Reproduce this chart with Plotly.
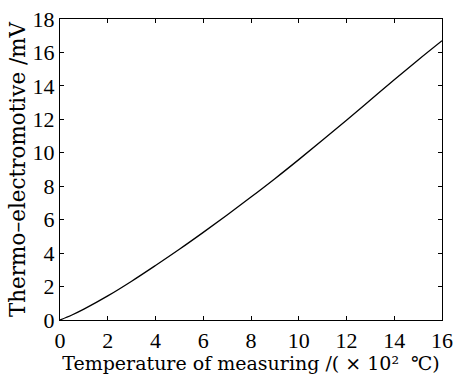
import plotly.graph_objects as go

temp = [0, 0.5, 1, 2, 3, 4, 5, 6, 7, 8, 9, 10, 11, 12, 13, 14, 15, 16]
emf = [0, 0.30, 0.65, 1.44, 2.32, 3.26, 4.23, 5.24, 6.28, 7.35, 8.45, 9.59, 10.76, 11.95, 13.16, 14.37, 15.55, 16.7]
x_ticks = [0, 2, 4, 6, 8, 10, 12, 14, 16]
y_ticks = [0, 2, 4, 6, 8, 10, 12, 14, 16, 18]

TFONT = "Liberation Serif, Times New Roman, serif"
FONT = "DejaVu Serif, Liberation Serif, serif"

fig = go.Figure(go.Scatter(x=temp, y=emf, mode="lines", line=dict(color="black", width=1.3, shape="spline")))

axis_common = dict(showgrid=False, zeroline=False, showline=True, linecolor="black", linewidth=1.2,
                   mirror="ticks", ticks="inside", ticklen=4, tickcolor="black", tickwidth=1,
                   tickfont=dict(family=TFONT, size=22, color="black"))
fig.update_layout(
    width=457, height=374, margin=dict(l=60, r=15, t=19, b=54, autoexpand=False),
    plot_bgcolor="white", paper_bgcolor="white", showlegend=False,
    xaxis=dict(range=[0, 16], tickvals=x_ticks, ticktext=[str(v) for v in x_ticks],
               title=dict(text="\u00a0\u00a0Temperature of measuring /( × 10²  ℃)", standoff=0,
                          font=dict(family=FONT, size=19, color="black")),
               automargin=False, **axis_common),
    yaxis=dict(range=[0, 18], tickvals=y_ticks, ticktext=[str(v) for v in y_ticks],
               title=dict(text="Thermo–electromotive /mV", standoff=0,
                          font=dict(family=FONT, size=21.5, color="black")),
               automargin=False, **axis_common),
)
fig.write_html("out.html")
